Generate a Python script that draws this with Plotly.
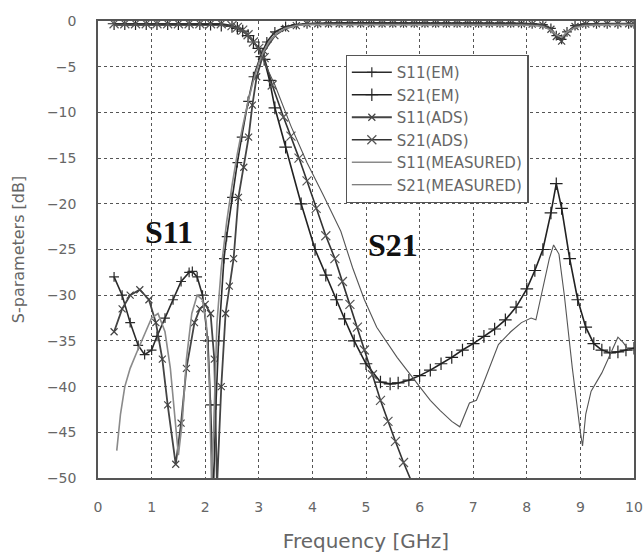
import plotly.graph_objects as go

# ---------------- data ----------------
S11_EM_x = [0.3, 0.45, 0.6, 0.75, 0.87, 1.0, 1.1, 1.25, 1.4, 1.55, 1.7, 1.76,
            1.85, 1.95, 2.05, 2.1, 2.15, 2.2, 2.25, 2.35, 2.4, 2.5, 2.6, 2.68, 2.8, 2.9, 3.03, 3.15,
            3.3, 3.5, 3.7, 3.9, 4.1, 4.3, 4.5, 4.7, 4.9, 5.1, 5.3, 5.5, 5.7, 5.9, 6.1, 6.3, 6.5,
            6.7, 6.9, 7.1, 7.3, 7.5, 7.7, 7.9, 8.1, 8.3,
            8.45, 8.55, 8.65, 8.75, 8.9,
            9.1, 9.3, 9.5, 9.7, 9.9, 10.0]
S11_EM_y = [-28, -30, -33, -35.5, -36.5, -36, -34.5, -32.5, -30.5, -28.5, -27.5, -27.4,
            -28, -30, -35, -42, -52, -42, -35, -26, -23.6, -19.3, -15.5, -12.7, -8.8, -6.1, -3.9, -2.3,
            -1.2, -0.6, -0.4, -0.3, -0.25, -0.2, -0.2, -0.2, -0.2, -0.2, -0.2, -0.2, -0.2, -0.2,
            -0.2, -0.2, -0.2, -0.2, -0.2, -0.2, -0.2, -0.2, -0.2, -0.25, -0.3, -0.4,
            -0.8, -1.6, -2.0, -1.2, -0.5,
            -0.3, -0.3, -0.3, -0.3, -0.3, -0.3]

S21_EM_x = [0.3, 0.5, 0.7, 0.9, 1.1, 1.3, 1.5, 1.7, 1.9, 2.1, 2.3, 2.5,
            2.6, 2.7, 2.8, 2.9, 3.0, 3.1, 3.2, 3.3,
            3.5, 3.79, 4.05, 4.25, 4.45, 4.6, 4.78, 5.0, 5.27,
            5.45, 5.6, 5.8, 6.0, 6.2, 6.4, 6.6, 6.8, 7.0, 7.2, 7.4, 7.6, 7.8, 8.0, 8.15, 8.3,
            8.45, 8.55, 8.65, 8.8, 8.95, 9.1, 9.25, 9.4, 9.55, 9.7, 9.85, 10.0]
S21_EM_y = [-0.3, -0.3, -0.3, -0.3, -0.3, -0.3, -0.3, -0.3, -0.3, -0.35, -0.45, -0.6,
            -0.8, -1.1, -1.6, -2.3, -3.0, -4.2, -6.5, -9.5,
            -13.8, -20, -25, -27.8, -30.5, -32.6, -35, -37.5, -39.5,
            -39.7, -39.6, -39.3, -38.8, -38.2, -37.5, -36.8, -36, -35.3, -34.5, -33.7, -32.7,
            -31.3, -29.3, -27.3, -25,
            -21, -17.8, -20.5, -26, -30.5, -33.5, -35.3, -36, -36.3, -36.2, -36, -35.8]

S11_ADS_x = [0.3, 0.45, 0.6, 0.78, 0.95, 1.08, 1.2, 1.3, 1.45, 1.55, 1.65, 1.8, 1.9, 2.0,
             2.1, 2.17, 2.22, 2.3, 2.38, 2.45, 2.53, 2.62, 2.72, 2.81, 2.88, 2.96, 3.1, 3.3,
             3.5, 3.7,
             3.9, 4.1, 4.3, 4.5, 4.7, 4.9, 5.1, 5.3, 5.5, 5.7, 5.9, 6.1, 6.3, 6.5, 6.7, 6.9,
             7.1, 7.3, 7.5, 7.7, 7.9, 8.1, 8.3,
             8.45, 8.55, 8.65, 8.75, 8.9, 9.1, 9.3, 9.5, 9.7, 9.9, 10.0]
S11_ADS_y = [-34, -31.5, -30, -29.4, -30.5, -33, -37, -42, -48.5, -44, -38, -33, -31.5, -31,
             -32, -37, -51, -40, -32, -29, -26, -19.3, -16, -12.7, -9.2, -6.1, -3.3, -1.6,
             -0.8, -0.5,
             -0.3, -0.3, -0.3, -0.3, -0.3, -0.3, -0.3, -0.3, -0.3, -0.3, -0.3, -0.3, -0.3,
             -0.3, -0.3, -0.3, -0.3, -0.3, -0.3, -0.3, -0.3, -0.35, -0.45,
             -0.9, -1.7, -2.2, -1.3, -0.6, -0.35, -0.3, -0.3, -0.3, -0.3, -0.3]

S21_ADS_x = [0.3, 0.5, 0.7, 0.9, 1.1, 1.3, 1.5, 1.7, 1.9, 2.1, 2.3, 2.5,
             2.6, 2.7, 2.8, 2.9, 3.0, 3.1,
             3.25, 3.46, 3.6, 3.75, 3.9, 4.07, 4.25, 4.42, 4.56, 4.7, 4.84, 4.97, 5.12,
             5.27, 5.41, 5.55, 5.7, 5.86, 6.0]
S21_ADS_y = [-0.3, -0.3, -0.3, -0.3, -0.3, -0.3, -0.3, -0.3, -0.3, -0.3, -0.3, -0.5,
             -0.7, -1.0, -1.5, -2.3, -3.0, -4.0,
             -7, -10.5, -12.6, -15, -17.5, -20.5, -23.5, -26, -28.5, -31, -33.5, -36, -38.7,
             -41.5, -43.8, -46, -48.3, -50.5, -52.5]

S11_MEAS_x = [0.35, 0.42, 0.5, 0.6, 0.72, 0.85, 1.0, 1.12, 1.25, 1.35, 1.45, 1.5, 1.57,
              1.65, 1.75, 1.85, 1.95, 2.02, 2.08, 2.12, 2.16, 2.22, 2.3, 2.4, 2.5, 2.6,
              2.7, 2.8, 2.9, 3.0, 3.1, 3.2, 3.35, 3.5, 3.7,
              3.9, 4.1, 4.3, 4.5, 4.7, 4.9, 5.1, 5.3, 5.5, 5.7, 5.9, 6.1, 6.3, 6.5, 6.7, 6.9,
              7.1, 7.3, 7.5, 7.7, 7.9, 8.1, 8.3,
              8.45, 8.55, 8.65, 8.75, 8.9, 9.1, 9.3, 9.5, 9.7, 9.9, 10.0]
S11_MEAS_y = [-47, -43, -40, -38, -36.3, -34.5, -32.5, -32, -34, -38, -44, -47.5, -44,
              -37, -32, -30, -30.5, -33, -40, -51, -44, -33, -27, -22, -18, -14.5,
              -11.5, -8.8, -6.5, -4.6, -3.2, -2.2, -1.3, -0.8, -0.5,
              -0.4, -0.4, -0.4, -0.4, -0.4, -0.4, -0.4, -0.4, -0.4, -0.4, -0.4, -0.4, -0.4,
              -0.4, -0.4, -0.4, -0.4, -0.4, -0.4, -0.4, -0.45, -0.5, -0.6,
              -1.0, -1.5, -1.8, -1.2, -0.7, -0.5, -0.45, -0.4, -0.4, -0.4, -0.4]

S21_MEAS_x = [0.3, 0.5, 0.7, 0.9, 1.1, 1.3, 1.5, 1.7, 1.9, 2.1, 2.3, 2.5,
              2.6, 2.7, 2.8, 2.9, 3.0, 3.1,
              3.3, 3.6, 3.9, 4.2, 4.53, 4.75, 4.97, 5.2, 5.58,
              6.0, 6.2, 6.38, 6.6, 6.75, 6.85, 6.93, 7.06, 7.2, 7.47,
              7.7, 7.9, 8.08, 8.17, 8.3, 8.42, 8.5, 8.6, 8.7, 8.85,
              9.0, 9.04, 9.1, 9.2, 9.4, 9.55, 9.7, 9.8, 9.9, 10.0]
S21_MEAS_y = [-0.5, -0.5, -0.5, -0.5, -0.5, -0.5, -0.5, -0.5, -0.5, -0.5, -0.5, -0.6,
              -0.8, -1.1, -1.6, -2.3, -3.2, -4.5,
              -7, -11.5, -15.5, -19, -23, -27, -30.5, -33.5, -36.8,
              -40, -41.5, -42.6, -43.8, -44.4, -43, -41.8, -41.5, -39.5, -35.4,
              -34, -33, -32.5, -32.7, -29.4, -26, -24.5, -25.5, -30, -38,
              -45, -46.5, -43, -40.5, -38.5, -36.5, -34.6, -35.2, -36, -36]

LABELS = ["S11(EM)", "S21(EM)", "S11(ADS)", "S21(ADS)", "S11(MEASURED)", "S21(MEASURED)"]
X_TICKS = list(range(0, 11))
Y_TICKS = list(range(-50, 1, 5))

# ---------------- figure ----------------
fig = go.Figure()

series = [
    (S11_EM_x, S11_EM_y, dict(color="#2b2b2b", width=1.6),
     dict(symbol="cross-thin", size=7, line=dict(width=1.2, color="#2b2b2b"))),
    (S21_EM_x, S21_EM_y, dict(color="#222222", width=1.6),
     dict(symbol="cross-thin", size=9, line=dict(width=1.2, color="#222222"))),
    (S11_ADS_x, S11_ADS_y, dict(color="#444444", width=1.8),
     dict(symbol="x-thin", size=7, line=dict(width=1.2, color="#444444"))),
    (S21_ADS_x, S21_ADS_y, dict(color="#333333", width=1.6),
     dict(symbol="x-thin", size=9, line=dict(width=1.2, color="#555555"))),
    (S11_MEAS_x, S11_MEAS_y, dict(color="#8a8a8a", width=1.6), None),
    (S21_MEAS_x, S21_MEAS_y, dict(color="#555555", width=1.1), None),
]

for i, (xs, ys, ln, mk) in enumerate(series):
    assert len(xs) == len(ys), LABELS[i]
    kw = dict(x=xs, y=ys, name=LABELS[i], line=ln, legendgroup=f"g{i}")
    if mk is not None:
        kw["mode"] = "lines+markers"
        kw["marker"] = mk
    else:
        kw["mode"] = "lines"
    fig.add_trace(go.Scatter(**kw))

axis_common = dict(
    showgrid=True, gridcolor="#555555", griddash="3px,3px", gridwidth=1,
    showline=True, linecolor="#555555", linewidth=1.5, mirror=True,
    zeroline=False, ticks="", tickfont=dict(size=14, color="#666666"),
    ticklabeloverflow="allow",
)

fig.update_xaxes(range=[0, 10], tickvals=X_TICKS, ticklabelstandoff=15,
                 title=dict(text="Frequency [GHz]", font=dict(size=20, color="#666666"),
                            standoff=20),
                 **axis_common)
fig.update_yaxes(range=[-50, 0], tickvals=Y_TICKS, ticklabelstandoff=17,
                 title=dict(text="S-parameters [dB]", font=dict(size=16, color="#666666"),
                            standoff=18),
                 **axis_common)

fig.add_annotation(x=1.33, y=-23.1, text="<b>S11</b>", showarrow=False,
                   font=dict(family="Liberation Serif", size=32, color="#111111"))
fig.add_annotation(x=5.51, y=-24.5, text="<b>S21</b>", showarrow=False,
                   font=dict(family="Liberation Serif", size=32, color="#111111"))

fig.update_layout(
    width=644, height=556,
    margin=dict(l=98, r=10, t=21, b=78, autoexpand=False),
    plot_bgcolor="white", paper_bgcolor="white",
    font=dict(family="DejaVu Sans", color="#666666"),
    legend=dict(x=0.462, y=0.926, xanchor="left", yanchor="top",
                bgcolor="white", bordercolor="#555555", borderwidth=1.2,
                font=dict(size=15, color="#666666"),
                traceorder="grouped", tracegroupgap=0, itemwidth=40),
)

fig.write_html("out.html")
